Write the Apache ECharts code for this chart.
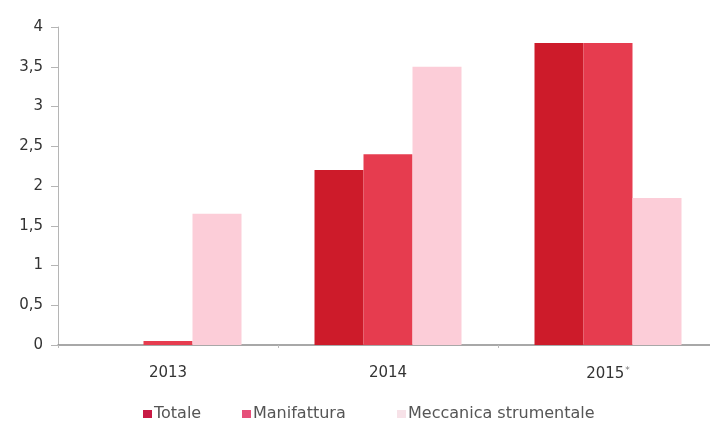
<!DOCTYPE html>
<html>
<head>
<meta charset="utf-8">
<script src="https://cdn.jsdelivr.net/npm/echarts@6/dist/echarts.min.js"></script>
<style>
  html, body { margin: 0; padding: 0; background: #fff; overflow: hidden; }
  /* the plot runs a little past the right edge of the window */
  #chart { width: 718px; height: 423px; }
</style>
</head>
<body>
<div id="chart"></div>
<script>
// Categories (years) and the three series
const years = ['2013', '2014', '2015'];
const totale = [0, 2.2, 3.8];
const manifattura = [0.05, 2.4, 3.8];
const meccanica = [1.65, 3.5, 1.85];
const yTicks = [0, 0.5, 1, 1.5, 2, 2.5, 3, 3.5, 4];
const seriesNames = ['Totale', 'Manifattura', 'Meccanica strumentale'];

const chart = echarts.init(document.getElementById('chart'));
const font = 'DejaVu Sans';

function fmtTick(v) {
  return String(v).replace('.', ',');
}

// one legend block per series so each entry sits at its own x
const legendLefts = [143, 242, 397];
const legendSwatch = ['#c81a44', '#e6507a', '#f7e2e8'];
const legends = seriesNames.map(function (name, i) {
  return {
    left: legendLefts[i],
    top: 406,
    padding: 0,
    itemWidth: 9,
    itemHeight: 8,
    itemGap: 0,
    icon: 'rect',
    selectedMode: false,
    textStyle: { color: '#555', fontSize: 16, fontFamily: font, padding: [0, 0, 0, -3] },
    data: [{ name: name, itemStyle: { color: legendSwatch[i] } }]
  };
});

chart.setOption({
  animation: false,
  backgroundColor: '#ffffff',
  textStyle: { fontFamily: font },
  grid: { left: 58, right: 0, top: 27, bottom: 78 },
  legend: legends,
  xAxis: {
    type: 'category',
    data: years,
    axisLine: { lineStyle: { color: '#8c8c8c', width: 1.5 } },
    axisTick: { show: true, length: 3, lineStyle: { color: '#bbb' } },
    axisLabel: {
      margin: 21,
      color: '#333',
      fontSize: 15,
      fontFamily: font,
      formatter: function (v) {
        return v === '2015' ? '{y|' + v + '}{s|*}' : '{y|' + v + '}';
      },
      rich: {
        y: { fontSize: 15, color: '#333', fontFamily: font },
        s: { fontSize: 9, color: '#777', verticalAlign: 'top', padding: [0, 0, 8, 1] }
      }
    }
  },
  yAxis: {
    type: 'value',
    min: 0,
    max: 4,
    interval: 0.5,
    axisLine: { show: true, lineStyle: { color: '#b5b5b5' } },
    axisTick: { show: true, inside: false, length: 7, lineStyle: { color: '#b5b5b5' } },
    splitLine: { show: false },
    axisLabel: {
      margin: 15,
      color: '#333',
      fontSize: 15,
      fontFamily: font,
      formatter: function (v) { return yTicks.indexOf(v) >= 0 ? fmtTick(v) : ''; }
    }
  },
  series: [
    {
      name: seriesNames[0], type: 'bar', data: totale, barWidth: 49, barGap: '0%',
      itemStyle: { color: '#cd1b2a' }
    },
    {
      name: seriesNames[1], type: 'bar', data: manifattura, barWidth: 49, barGap: '0%',
      itemStyle: { color: '#e63c4f' }
    },
    {
      name: seriesNames[2], type: 'bar', data: meccanica, barWidth: 49, barGap: '0%',
      itemStyle: { color: '#fccdd8' }
    }
  ]
});
</script>
</body>
</html>
